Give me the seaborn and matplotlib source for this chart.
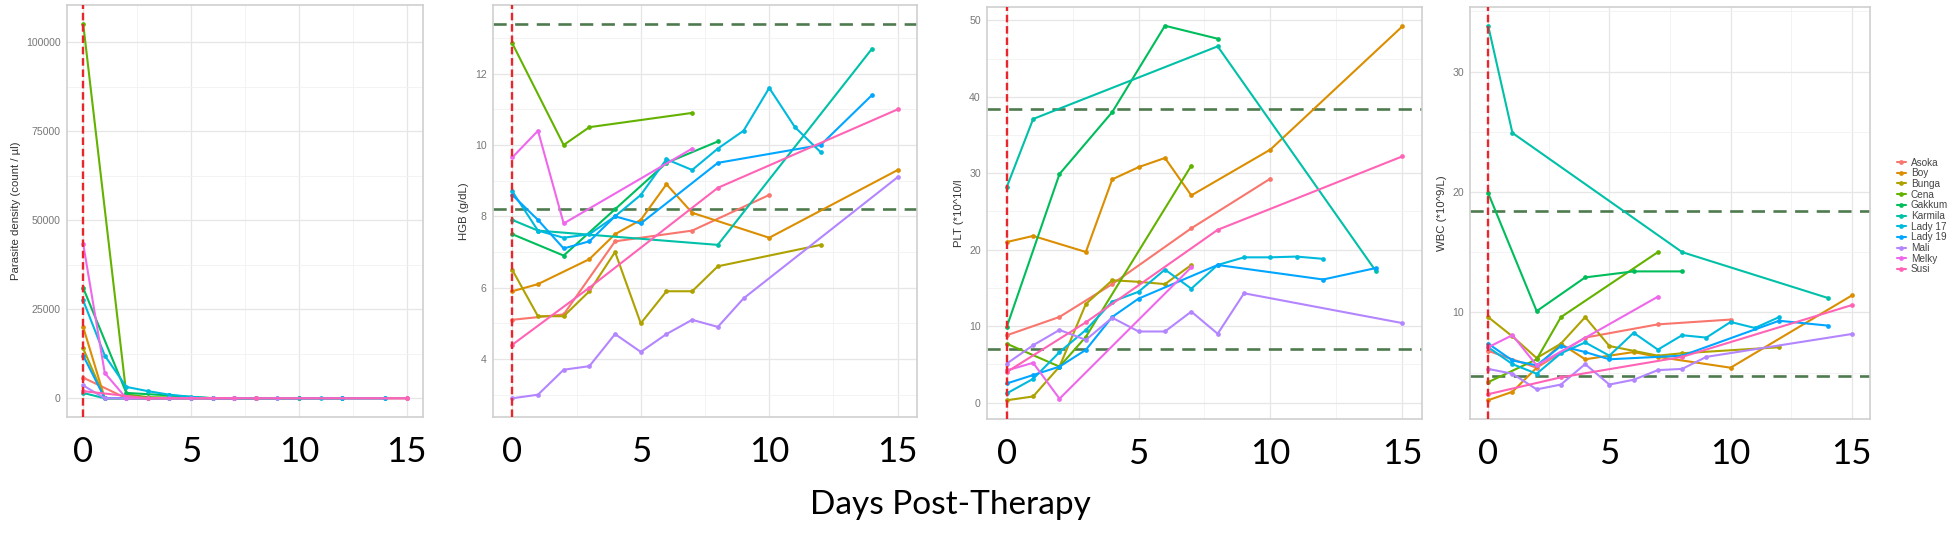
import pandas as pd
import matplotlib
matplotlib.use("Agg")
import matplotlib.pyplot as plt
import seaborn as sns
from matplotlib.ticker import AutoMinorLocator, FixedLocator

# patients and ggplot hue colours
patients = ["Asoka", "Boy", "Bunga", "Cena", "Gakkum", "Karmila",
            "Lady 17", "Lady 19", "Mali", "Melky", "Susi"]
colors = ["#F8766D", "#DB8E00", "#AEA200", "#64B200", "#00BD5C", "#00C1A7",
          "#00BADE", "#00A6FF", "#B385FF", "#EF67EB", "#FF63B6"]

# sampling days and values per patient (para = parasite density, hgb, plt, wbc)
asoka_days = [0, 2, 4, 7, 10]
asoka_para = [5800, 0, 0, 0, 0]
asoka_hgb = [5.1, 5.25, 7.3, 7.6, 8.6]
asoka_plt = [8.8, 11.2, 15.5, 22.8, 29.3]
asoka_wbc = [6.8, 5.4, 7.9, 9.0, 9.4]

boy_days = [0, 1, 3, 4, 5, 6, 7, 10, 15]
boy_para = [20000, 0, 0, 0, 0, 0, 0, 0, 0]
boy_hgb = [5.9, 6.1, 6.8, 7.5, 7.9, 8.9, 8.1, 7.4, 9.3]
boy_plt = [21.0, 21.8, 19.7, 29.2, 30.8, 32.0, 27.1, 33.1, 49.2]
boy_wbc = [2.7, 3.4, 7.4, 6.1, 6.4, 6.7, 6.3, 5.4, 11.4]

bunga_days = [0, 1, 2, 3, 4, 5, 6, 7, 8, 12]
bunga_para = [14000, 0, 0, 0, 0, 0, 0, 0, 0, 0]
bunga_hgb = [6.5, 5.2, 5.2, 5.9, 7.0, 5.0, 5.9, 5.9, 6.6, 7.2]
bunga_plt = [0.3, 0.8, 4.7, 12.9, 16.0, 15.8, 15.5, 18.0, None, None]
bunga_wbc = [9.6, 8.0, 6.2, 7.4, 9.6, 7.2, 6.8, 6.4, 6.6, 7.1]

cena_days = [0, 2, 3, 7]
cena_para = [105200, 1100, 300, 0]
cena_hgb = [12.85, 10.0, 10.5, 10.9]
cena_plt = [7.7, 4.7, 8.6, 31.0]
cena_wbc = [4.2, 6.1, 9.6, 15.0]

gakkum_days = [0, 2, 4, 6, 8]
gakkum_para = [31000, 1500, 800, 0, 0]
gakkum_hgb = [7.5, 6.9, 8.2, 9.5, 10.1]
gakkum_plt = [9.9, 29.9, 38.0, 49.3, 47.6]
gakkum_wbc = [19.9, 10.1, 12.9, 13.4, 13.4]

karmila_days = [0, 1, 8, 14]
karmila_para = [1500, 0, 0, 0]
karmila_hgb = [7.9, 7.6, 7.2, 12.7]
karmila_plt = [28.2, 37.1, 46.6, 17.2]
karmila_wbc = [33.8, 24.9, 15.0, 11.2]

lady17_days = [0, 1, 2, 3, 4, 5, 6, 7, 8, 9, 10, 11, 12]
lady17_para = [27500, 12000, 3200, 2000, 1000, 400, 0, 0, 0, 0, 0, 0, 0]
lady17_hgb = [8.7, 7.6, 7.4, 7.5, 8.0, 8.6, 9.6, 9.3, 9.9, 10.4, 11.6, 10.5, 9.8]
lady17_plt = [1.2, 3.1, 6.6, 9.5, 13.2, 14.5, 17.4, 14.9, 18.0, 19.0, 19.0, 19.1, 18.8]
lady17_wbc = [7.1, 5.7, 4.9, 6.6, 7.5, 6.4, 8.3, 6.9, 8.1, 7.9, 9.2, 8.7, 9.6]

lady19_days = [0, 1, 2, 3, 4, 5, 8, 12, 14]
lady19_para = [12000, 0, 0, 0, 0, 0, 0, 0, 0]
lady19_hgb = [8.6, 7.9, 7.1, 7.3, 8.0, 7.8, 9.5, 10.0, 11.4]
lady19_plt = [2.5, 3.6, 4.7, 6.9, 11.2, 13.6, 18.0, 16.1, 17.6]
lady19_wbc = [7.4, 6.0, 5.6, 7.2, 6.7, 6.1, 6.4, 9.3, 8.9]

mali_days = [0, 1, 2, 3, 4, 5, 6, 7, 8, 9, 15]
mali_para = [3600, 0, 0, 0, 0, 0, 0, 0, 0, 0, 0]
mali_hgb = [2.9, 3.0, 3.7, 3.8, 4.7, 4.2, 4.7, 5.1, 4.9, 5.7, 9.1]
mali_plt = [5.1, 7.5, 9.5, 8.2, 11.1, 9.3, 9.3, 11.9, 9.0, 14.3, 10.4]
mali_wbc = [5.3, 4.9, 3.6, 4.0, 5.7, 4.0, 4.4, 5.2, 5.3, 6.3, 8.2]

melky_days = [0, 1, 2, 7]
melky_para = [43400, 7100, 0, 0]
melky_hgb = [9.65, 10.4, 7.8, 9.9]
melky_plt = [4.2, 5.2, 0.5, 17.7]
melky_wbc = [7.1, 8.1, 5.6, 11.3]

susi_days = [0, 3, 8, 15]
susi_para = [2000, 0, 0, 0]
susi_hgb = [4.4, 6.0, 8.8, 11.0]
susi_plt = [4.0, 10.5, 22.6, 32.2]
susi_wbc = [3.2, 4.6, 6.3, 10.6]

# reference ranges (green dashed lines)
hgb_ref = [8.2, 13.4]
plt_ref = [7.0, 38.4]
wbc_ref = [4.74, 18.4]

series = [
    ("Asoka", asoka_days, asoka_para, asoka_hgb, asoka_plt, asoka_wbc),
    ("Boy", boy_days, boy_para, boy_hgb, boy_plt, boy_wbc),
    ("Bunga", bunga_days, bunga_para, bunga_hgb, bunga_plt, bunga_wbc),
    ("Cena", cena_days, cena_para, cena_hgb, cena_plt, cena_wbc),
    ("Gakkum", gakkum_days, gakkum_para, gakkum_hgb, gakkum_plt, gakkum_wbc),
    ("Karmila", karmila_days, karmila_para, karmila_hgb, karmila_plt, karmila_wbc),
    ("Lady 17", lady17_days, lady17_para, lady17_hgb, lady17_plt, lady17_wbc),
    ("Lady 19", lady19_days, lady19_para, lady19_hgb, lady19_plt, lady19_wbc),
    ("Mali", mali_days, mali_para, mali_hgb, mali_plt, mali_wbc),
    ("Melky", melky_days, melky_para, melky_hgb, melky_plt, melky_wbc),
    ("Susi", susi_days, susi_para, susi_hgb, susi_plt, susi_wbc),
]

frames = []
for name, days, para, hgb, pl, wbc in series:
    frames.append(pd.DataFrame({"patient": name, "day": days, "para": para,
                                "hgb": hgb, "plt": pl, "wbc": wbc}))
df = pd.concat(frames, ignore_index=True)
for c in ["para", "hgb", "plt", "wbc"]:
    df[c] = pd.to_numeric(df[c])

sns.set_style("white")
plt.rcParams["font.family"] = ["Liberation Sans", "DejaVu Sans"]

W, H = 1958, 548
fig = plt.figure(figsize=(W / 100, H / 100), dpi=100)

# panel boxes in pixels: left, right, top, bottom
boxes = [(67, 423, 5, 417), (493, 917, 5, 417), (987, 1422, 7, 419), (1470, 1870, 7, 419)]
cols = ["para", "hgb", "plt", "wbc"]
ylabels = ["Parasite density (count / µl)", "HGB (g/dL)", "PLT (*10^10/l", "WBC (*10^9/L)"]
ylims = [(-5260, 110460), (2.375, 13.925), (-2.15, 51.75), (1.14, 35.36)]
yticks = [[0, 25000, 50000, 75000, 100000], [4, 6, 8, 10, 12],
          [0, 10, 20, 30, 40, 50], [10, 20, 30]]
refs = [None, hgb_ref, plt_ref, wbc_ref]

axes = []
for i, (l, r, t, b) in enumerate(boxes):
    ax = fig.add_axes([l / W, 1 - b / H, (r - l) / W, (b - t) / H])
    axes.append(ax)
    sub = df.dropna(subset=[cols[i]])
    sns.lineplot(data=sub, x="day", y=cols[i], hue="patient", hue_order=patients,
                 palette=colors, estimator=None, units="patient", marker="o",
                 markersize=3.4, markeredgewidth=0, linewidth=1.5,
                 legend=(i == 3), ax=ax)
    if refs[i] is not None:
        for v in refs[i]:
            ax.axhline(v, color="#4E7B4E", linewidth=1.9, dashes=(5, 3.2), zorder=1)
    ax.axvline(0, color="#E8262B", linewidth=1.7, dashes=(3.2, 1.6), zorder=3)

    ax.set_xlim(-0.75, 15.75)
    ax.set_ylim(*ylims[i])
    ax.set_xticks([0, 5, 10, 15])
    ax.set_xticklabels(["0", "5", "10", "15"], fontsize=25, family="Lato", color="black")
    ax.tick_params(axis="x", length=0, pad=14)
    ax.yaxis.set_major_locator(FixedLocator(yticks[i]))
    ax.set_yticklabels([str(v) for v in yticks[i]], fontsize=7.6, color="#777777")
    ax.tick_params(axis="y", length=2.5, width=0.6, color="#B8B8B8", pad=2)
    ax.xaxis.set_minor_locator(AutoMinorLocator(2))
    ax.yaxis.set_minor_locator(AutoMinorLocator(2))
    ax.tick_params(which="minor", length=0)
    ax.grid(which="major", color="#E6E6E6", linewidth=0.9)
    ax.grid(which="minor", color="#F1F1F1", linewidth=0.6)
    ax.set_axisbelow(True)
    for s in ax.spines.values():
        s.set_color("#CFCFCF")
        s.set_linewidth(1.2)
    ax.set_xlabel("")
    ax.set_ylabel(ylabels[i], fontsize=8.2, color="#333333", labelpad=4)

# legend on the right
handles, labels = axes[3].get_legend_handles_labels()
axes[3].get_legend().remove()
leg = fig.legend(handles, labels, loc="center left", bbox_to_anchor=(1893 / W, 1 - 216 / H),
                 frameon=False, fontsize=7.2, handlelength=0.9, handletextpad=0.5,
                 labelspacing=0.07, borderaxespad=0)
for txt in leg.get_texts():
    txt.set_color("#444444")

fig.text(950 / W, 1 - 505 / H, "Days Post-Therapy", ha="center", va="center",
         fontsize=24, family="Lato", color="black")

fig.savefig("out.png", dpi=100)
